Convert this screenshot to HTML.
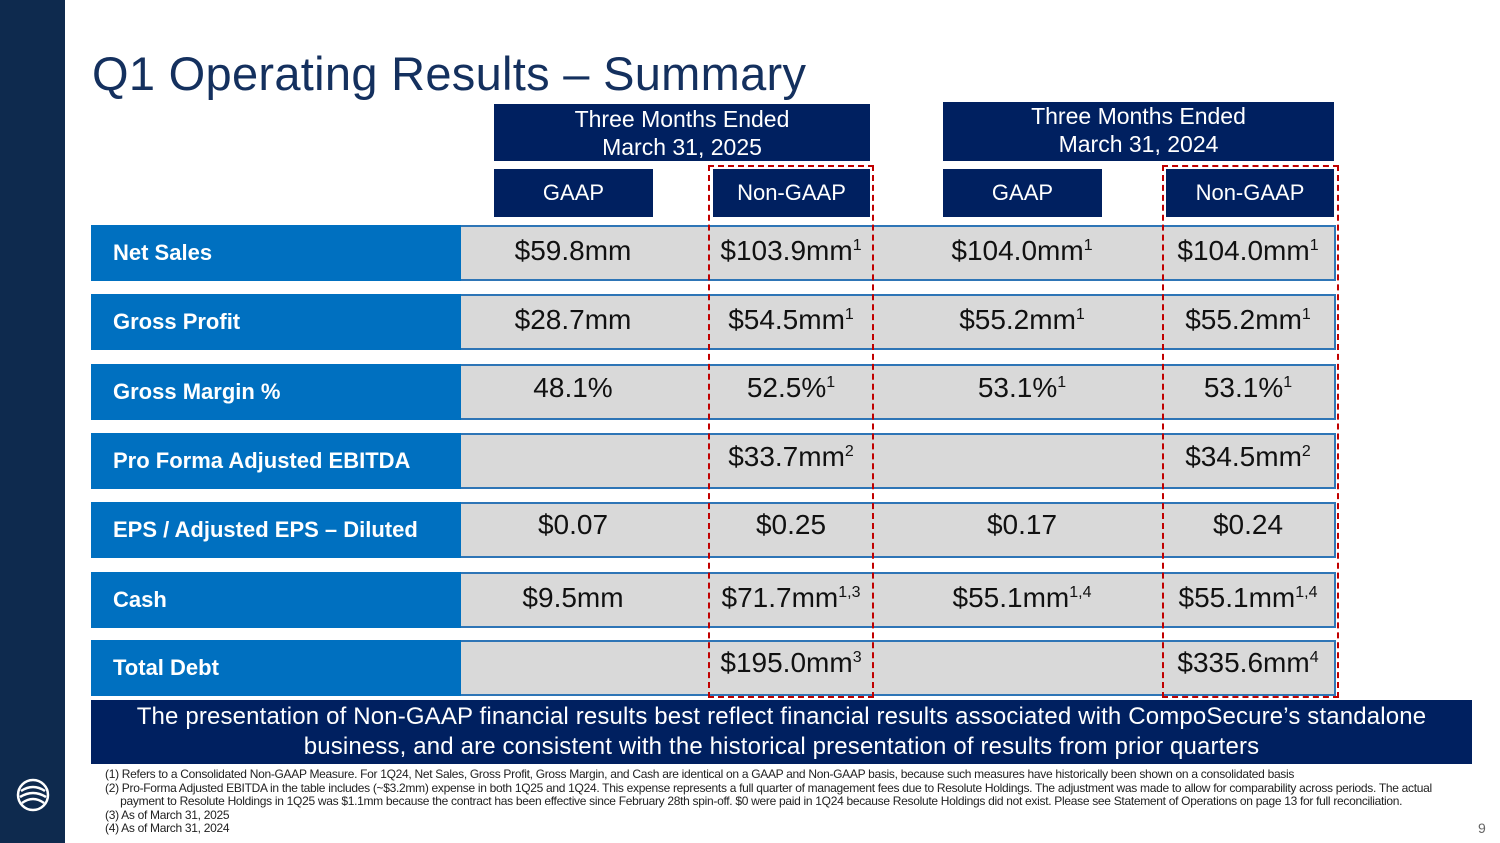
<!DOCTYPE html>
<html><head><meta charset="utf-8"><style>
*{margin:0;padding:0;box-sizing:border-box}
body{width:1500px;height:843px;background:#fff;position:relative;overflow:hidden;font-family:"Liberation Sans",sans-serif}
.a{position:absolute}
.hd{background:#002060;color:#fff;text-align:center;font-size:23px;line-height:28px}
.sub{background:#002060;color:#fff;text-align:center;font-size:22px;line-height:48px}
.row{position:absolute;left:91px;width:1245px;height:56px;background:#D9D9D9;border-top:2px solid #2E75B6;border-bottom:2px solid #2E75B6;border-right:2px solid #2E75B6}
.lab{position:absolute;left:0;top:-2px;width:370px;height:56px;background:#0070C0;color:#fff;font-weight:bold;font-size:22px;line-height:56px;padding-left:22px}
.v{position:absolute;top:0;width:240px;margin-left:-120px;text-align:center;font-size:28px;line-height:48px;color:#111}
sup{font-size:16px;vertical-align:10px;line-height:0}
.dash{position:absolute;border:2.5px dashed #C00000}
.fn{position:absolute;left:105px;font-size:12px;color:#222;line-height:13.5px;letter-spacing:-0.3px}
</style></head><body>
<div class="a" style="left:0;top:0;width:65px;height:843px;background:#0E2A4E"></div>
<svg class="a" style="left:16px;top:778px" width="34" height="34" viewBox="0 0 34 34"><circle cx="17" cy="17" r="15" fill="none" stroke="#fff" stroke-width="2.5"/><path d="M5 13 Q17 5 29 13 M4 19 Q17 11 30 19 M6 25 Q17 17 28 25" stroke="#fff" stroke-width="2.5" fill="none"/></svg>
<div class="a" style="left:92px;top:46px;font-size:47px;color:#14305E;line-height:56px;letter-spacing:0.3px">Q1 Operating Results – Summary</div>
<div class="a hd" style="left:494px;top:104px;width:376px;height:57px;padding-top:1px">Three Months Ended<br>March 31, 2025</div>
<div class="a hd" style="left:943px;top:102px;width:391px;height:59px">Three Months Ended<br>March 31, 2024</div>
<div class="a sub" style="left:494px;top:169px;width:159px">GAAP</div>
<div class="a sub" style="left:713px;top:169px;width:157px">Non-GAAP</div>
<div class="a sub" style="left:943px;top:169px;width:159px">GAAP</div>
<div class="a sub" style="left:1166px;top:169px;width:168px">Non-GAAP</div>

<div class="row" style="top:225px"><div class="lab">Net Sales</div>
<div class="v" style="left:482px">$59.8mm</div><div class="v" style="left:700px">$103.9mm<sup>1</sup></div><div class="v" style="left:931px">$104.0mm<sup>1</sup></div><div class="v" style="left:1157px">$104.0mm<sup>1</sup></div></div>
<div class="row" style="top:294px"><div class="lab">Gross Profit</div>
<div class="v" style="left:482px">$28.7mm</div><div class="v" style="left:700px">$54.5mm<sup>1</sup></div><div class="v" style="left:931px">$55.2mm<sup>1</sup></div><div class="v" style="left:1157px">$55.2mm<sup>1</sup></div></div>
<div class="row" style="top:364px"><div class="lab">Gross Margin %</div>
<div class="v" style="left:482px;top:-2px">48.1%</div><div class="v" style="left:700px;top:-2px">52.5%<sup>1</sup></div><div class="v" style="left:931px;top:-2px">53.1%<sup>1</sup></div><div class="v" style="left:1157px;top:-2px">53.1%<sup>1</sup></div></div>
<div class="row" style="top:433px"><div class="lab">Pro Forma Adjusted EBITDA</div>
<div class="v" style="left:700px;top:-2px">$33.7mm<sup>2</sup></div><div class="v" style="left:1157px;top:-2px">$34.5mm<sup>2</sup></div></div>
<div class="row" style="top:502px"><div class="lab">EPS / Adjusted EPS – Diluted</div>
<div class="v" style="left:482px;top:-3px">$0.07</div><div class="v" style="left:700px;top:-3px">$0.25</div><div class="v" style="left:931px;top:-3px">$0.17</div><div class="v" style="left:1157px;top:-3px">$0.24</div></div>
<div class="row" style="top:572px"><div class="lab">Cash</div>
<div class="v" style="left:482px">$9.5mm</div><div class="v" style="left:700px">$71.7mm<sup>1,3</sup></div><div class="v" style="left:931px">$55.1mm<sup>1,4</sup></div><div class="v" style="left:1157px">$55.1mm<sup>1,4</sup></div></div>
<div class="row" style="top:640px"><div class="lab">Total Debt</div>
<div class="v" style="left:700px;top:-3px">$195.0mm<sup>3</sup></div><div class="v" style="left:1157px;top:-3px">$335.6mm<sup>4</sup></div></div>

<div class="dash" style="left:708px;top:165px;width:166px;height:533px"></div>
<div class="dash" style="left:1162px;top:165px;width:177px;height:533px"></div>

<div class="a" style="left:91px;top:700px;width:1381px;height:64px;background:#002060;color:#fff;text-align:center;font-size:24px;line-height:30px;padding-top:2px;letter-spacing:0.15px">The presentation of Non-GAAP financial results best reflect financial results associated with CompoSecure’s standalone<br>business, and are consistent with the historical presentation of results from prior quarters</div>
<div class="fn" style="top:768px">(1) Refers to a Consolidated Non-GAAP Measure. For 1Q24, Net Sales, Gross Profit, Gross Margin, and Cash are identical on a GAAP and Non-GAAP basis, because such measures have historically been shown on a consolidated basis<br>(2) Pro-Forma Adjusted EBITDA in the table includes (~$3.2mm) expense in both 1Q25 and 1Q24. This expense represents a full quarter of management fees due to Resolute Holdings. The adjustment was made to allow for comparability across periods. The actual<br>&nbsp;&nbsp;&nbsp;&nbsp;&nbsp;payment to Resolute Holdings in 1Q25 was $1.1mm because the contract has been effective since February 28th spin-off. $0 were paid in 1Q24 because Resolute Holdings did not exist. Please see Statement of Operations on page 13 for full reconciliation.<br>(3) As of March 31, 2025<br>(4) As of March 31, 2024</div>
<div class="a" style="left:1478px;top:820px;font-size:14px;color:#666">9</div>
</body></html>
